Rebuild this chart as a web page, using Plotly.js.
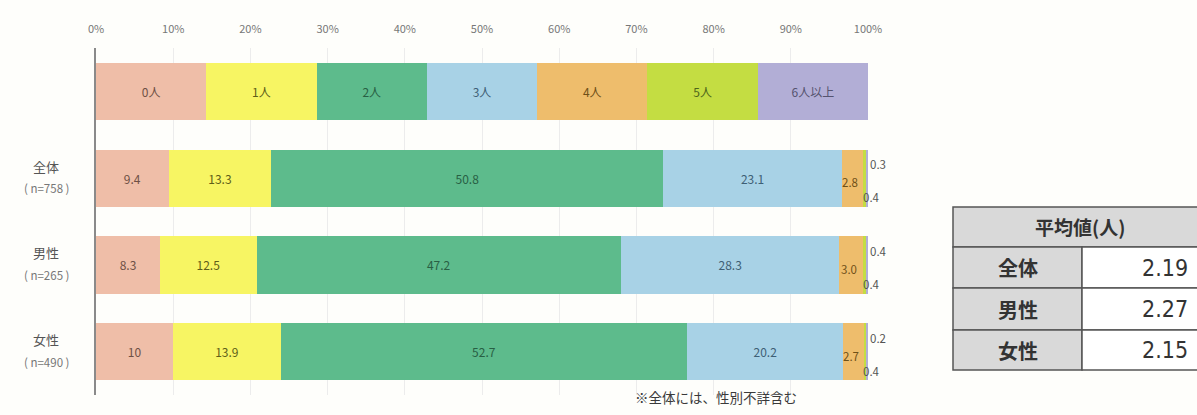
<!DOCTYPE html>
<html>
<head>
<meta charset="utf-8">
<script src="https://cdn.plot.ly/plotly-3.0.1.min.js"></script>
<style>
  html, body { margin: 0; padding: 0; background: #fefefb; }
  #chart { width: 1197px; height: 415px; }
</style>
</head>
<body>
<div id="chart"></div>
<script>
// ---- data ----
const categories = ['0人', '1人', '2人', '3人', '4人', '5人', '6人以上'];
const groups = ['全体', '男性', '女性'];
const groupN = ['n=758', 'n=265', 'n=490'];
const totalValues = [9.4, 13.3, 50.8, 23.1, 2.8, 0.3, 0.4];
const maleValues = [8.3, 12.5, 47.2, 28.3, 3.0, 0.4, 0.4];
const femaleValues = [10, 13.9, 52.7, 20.2, 2.7, 0.2, 0.4];
const xTickVals = [0, 10, 20, 30, 40, 50, 60, 70, 80, 90, 100];
const xTickText = ['0%', '10%', '20%', '30%', '40%', '50%', '60%', '70%', '80%', '90%', '100%'];
const avgHeader = '平均値(人)';
const avgLabels = ['全体', '男性', '女性'];
const avgValues = [2.19, 2.27, 2.15];
const footnote = '※全体には、性別不詳含む';

// ---- styles ----
const fillColors = ['#efbea8', '#f7f563', '#5dbb8c', '#a8d2e6', '#eebd6c', '#c4dd42', '#b2aed6'];
const textColors = ['#6e5045', '#5e5e18', '#285f44', '#3e5f75', '#6e5018', '#4e651a', '#55536f'];
const FONT = '"Noto Sans CJK JP", "Noto Sans", sans-serif';

const seriesByGroup = [totalValues, maleValues, femaleValues];
const LEGEND_ROW = ' ';
const yCats = [LEGEND_ROW].concat(groups);
const fmt = v => (Number.isInteger(v) && v >= 10) ? String(v) : v.toFixed(1);
const nInside = 4; // first four categories labelled inside the bars

const traces = categories.map((cat, i) => {
  const vals = seriesByGroup.map(s => s[i]);
  return {
    type: 'bar',
    orientation: 'h',
    name: cat,
    y: yCats,
    x: [100 / categories.length].concat(vals),
    text: [cat].concat(vals.map(v => i < nInside ? fmt(v) : '')),
    textposition: 'inside',
    insidetextanchor: 'middle',
    textangle: 0,
    textfont: { family: FONT, size: 12, color: textColors[i] },
    marker: { color: fillColors[i], line: { width: 0 } },
    hoverinfo: 'skip',
    showlegend: false,
    cliponaxis: false
  };
});

// pixel layout of the plot area
const PL = 96, PR = 868, PT = 48, PB = 395;
const px = x => (x - PL) / (PR - PL);
const py = y => (PB - y) / (PB - PT);

const annotations = [];
// group labels on the left
groups.forEach((g, k) => {
  annotations.push({ xref: 'paper', yref: 'y', x: px(46), y: g, text: g, showarrow: false,
    yshift: 12, xanchor: 'center', font: { family: FONT, size: 13, color: '#555' } });
  annotations.push({ xref: 'paper', yref: 'y', x: px(46), y: g, text: '( ' + groupN[k] + ' )', showarrow: false,
    yshift: -10, xanchor: 'center', font: { family: FONT, size: 11.5, color: '#777' } });
});
// small segment labels (4人, 5人, 6人以上)
groups.forEach((g, k) => {
  const s = seriesByGroup[k];
  let cum = 0;
  for (let i = 0; i < 4; i++) cum += s[i];
  annotations.push({ xref: 'x', yref: 'y', x: cum + s[4] / 2 - 0.3, y: g, text: fmt(s[4]), showarrow: false,
    yshift: -4, xanchor: 'center', font: { family: FONT, size: 11.5, color: textColors[4] } });
  annotations.push({ xref: 'paper', yref: 'y', x: 1, y: g, text: fmt(s[5]), showarrow: false,
    yshift: 14, xanchor: 'left', xshift: 0, font: { family: FONT, size: 11.5, color: '#555' } });
  annotations.push({ xref: 'paper', yref: 'y', x: 1, y: g, text: fmt(s[6]), showarrow: false,
    yshift: -19, xanchor: 'center', xshift: 3, font: { family: FONT, size: 11.5, color: '#555' } });
});
// footnote
annotations.push({ xref: 'paper', yref: 'paper', x: px(633), y: py(397), yanchor: 'middle', xanchor: 'left', text: footnote,
  showarrow: false, font: { family: FONT, size: 13.5, color: '#3a3a3a' } });

// ---- average table (drawn in paper coords from pixel layout) ----
const tLeft = 953, tMid = 1082, tRight = 1200;
const tRows = [207, 247, 288, 330, 370];
const shapes = [];
const border = { color: '#555', width: 1.5 };
shapes.push({ type: 'rect', xref: 'paper', yref: 'paper', x0: px(tLeft), x1: px(tRight), y0: py(tRows[0]), y1: py(tRows[1]),
  fillcolor: '#d9d9d9', line: border, layer: 'above' });
avgLabels.forEach((lab, r) => {
  shapes.push({ type: 'rect', xref: 'paper', yref: 'paper', x0: px(tLeft), x1: px(tMid), y0: py(tRows[r + 1]), y1: py(tRows[r + 2]),
    fillcolor: '#d9d9d9', line: border, layer: 'above' });
  shapes.push({ type: 'rect', xref: 'paper', yref: 'paper', x0: px(tMid), x1: px(tRight), y0: py(tRows[r + 1]), y1: py(tRows[r + 2]),
    fillcolor: '#ffffff', line: border, layer: 'above' });
  const yc = py((tRows[r + 1] + tRows[r + 2]) / 2);
  annotations.push({ xref: 'paper', yref: 'paper', x: px((tLeft + tMid) / 2), y: yc, text: '<b>' + lab + '</b>',
    showarrow: false, xanchor: 'center', yanchor: 'middle', font: { family: FONT, size: 20, color: '#333' } });
  annotations.push({ xref: 'paper', yref: 'paper', x: px(1190), y: yc, text: avgValues[r].toFixed(2),
    showarrow: false, xanchor: 'right', yanchor: 'middle',
    font: { family: '"Liberation Sans Narrow", "DejaVu Sans Condensed", sans-serif', size: 23, color: '#333' } });
});
annotations.push({ xref: 'paper', yref: 'paper', x: px(1080), y: py((tRows[0] + tRows[1]) / 2), text: '<b>' + avgHeader + '</b>',
  showarrow: false, xanchor: 'center', yanchor: 'middle', font: { family: FONT, size: 19, color: '#333' } });

const layout = {
  width: 1197, height: 415,
  margin: { l: PL, r: 1197 - PR, t: PT, b: 415 - PB, pad: 0 },
  paper_bgcolor: '#fefefb',
  plot_bgcolor: '#fefefb',
  barmode: 'stack',
  bargap: 0.34,
  showlegend: false,
  font: { family: FONT },
  xaxis: {
    side: 'top', range: [0, 100.0001], tickvals: xTickVals, ticktext: xTickText,
    tickfont: { family: FONT, size: 11, color: '#777' },
    showgrid: true, gridcolor: '#ececec', gridwidth: 1, zeroline: false,
    showline: false, ticks: '', ticklabelstandoff: 12, fixedrange: true
  },
  yaxis: {
    type: 'category', categoryorder: 'array', categoryarray: yCats, autorange: 'reversed',
    showticklabels: false, showgrid: false, zeroline: false,
    showline: true, linecolor: '#8a8a8a', linewidth: 2, ticks: '', fixedrange: true
  },
  annotations: annotations,
  shapes: shapes
};

Plotly.newPlot('chart', traces, layout, { displayModeBar: false, staticPlot: true });
</script>
</body>
</html>
